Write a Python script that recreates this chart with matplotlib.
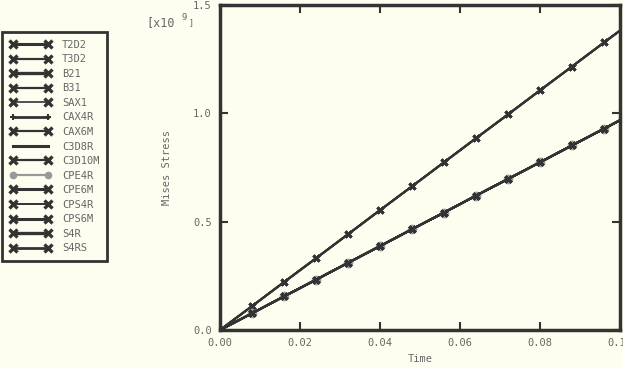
import matplotlib
matplotlib.use("Agg")
import matplotlib.pyplot as plt
from matplotlib.lines import Line2D

# Data
time = [0.0, 0.008, 0.016, 0.024, 0.032, 0.040, 0.048, 0.056, 0.064, 0.072, 0.080, 0.088, 0.096, 0.100]
upper = [0.0, 0.110, 0.221, 0.331, 0.442, 0.553, 0.663, 0.774, 0.885, 0.995, 1.106, 1.216, 1.327, 1.382]
lower = [0.0, 0.077, 0.155, 0.232, 0.310, 0.387, 0.465, 0.542, 0.620, 0.697, 0.774, 0.852, 0.929, 0.968]

names = ["T2D2", "T3D2", "B21", "B31", "SAX1", "CAX4R", "CAX6M", "C3D8R",
         "C3D10M", "CPE4R", "CPE6M", "CPS4R", "CPS6M", "S4R", "S4RS"]
which = ["upper", "upper", "upper", "upper", "lower", "lower", "lower", "lower",
         "lower", "lower", "lower", "lower", "lower", "lower", "lower"]

xticks = [0.00, 0.02, 0.04, 0.06, 0.08, 0.10]
xticklabels = ["0.00", "0.02", "0.04", "0.06", "0.08", "0.10"]
yticks = [0.0, 0.5, 1.0, 1.5]
yticklabels = ["0.0", "0.5", "1.0", "1.5"]

bg = "#fefef0"
dark = "#333333"
txt = "#666666"
font = "DejaVu Sans Mono"
fs = 7.5

styles = {
    "T2D2": dict(marker="x", lw=2.2, ms=5.5, mew=2.4, color=dark),
    "T3D2": dict(marker="x", lw=1.6, ms=5.5, mew=2.4, color=dark),
    "B21": dict(marker="x", lw=2.4, ms=5.5, mew=2.4, color=dark),
    "B31": dict(marker="x", lw=1.6, ms=5.5, mew=2.4, color=dark),
    "SAX1": dict(marker="x", lw=1.2, ms=5.5, mew=2.4, color=dark),
    "CAX4R": dict(marker="+", lw=2.0, ms=4, mew=1.5, color=dark),
    "CAX6M": dict(marker="x", lw=1.6, ms=5.5, mew=2.4, color=dark),
    "C3D8R": dict(marker=None, lw=2.2, color=dark),
    "C3D10M": dict(marker="x", lw=1.6, ms=5.5, mew=2.4, color=dark),
    "CPE4R": dict(marker="o", lw=1.6, ms=4.5, mew=1, color="#999999"),
    "CPE6M": dict(marker="x", lw=2.2, ms=5.5, mew=2.4, color=dark),
    "CPS4R": dict(marker="x", lw=1.4, ms=5.5, mew=2.4, color=dark),
    "CPS6M": dict(marker="x", lw=2.2, ms=5.5, mew=2.4, color=dark),
    "S4R": dict(marker="x", lw=2.4, ms=5.5, mew=2.4, color=dark),
    "S4RS": dict(marker="x", lw=2.0, ms=5.5, mew=2.4, color=dark),
}

fig = plt.figure(figsize=(6.23, 3.68), dpi=100, facecolor=bg)
ax = fig.add_axes([220/623, 38/368, 400/623, 325/368], facecolor=bg)

handles = []
for name, w in zip(names, which):
    ys = upper if w == "upper" else lower
    st = dict(styles[name])
    c = st.pop("color")
    m = st.pop("marker")
    lw = st.pop("lw")
    ms = st.pop("ms", 5)
    mew = st.pop("mew", 1)
    ax.plot(time, ys, color=c, lw=1.5, marker=m, ms=5, mew=2.0,
            markerfacecolor=c, markeredgecolor=c, markevery=list(range(0, 13)))
    handles.append(Line2D([], [], color=c, lw=lw, marker=m, ms=ms, mew=mew,
                          markerfacecolor=c, markeredgecolor=c))

ax.set_xlim(0, 0.10)
ax.set_ylim(0, 1.5)
ax.set_xticks(xticks)
ax.set_xticklabels(xticklabels, fontfamily=font, fontsize=fs, color=txt)
ax.set_yticks(yticks)
ax.set_yticklabels(yticklabels, fontfamily=font, fontsize=fs, color=txt)
ax.tick_params(direction="in", length=6, width=1.5, color=dark, top=True, right=True, pad=6)
for s in ax.spines.values():
    s.set_linewidth(2.5)
    s.set_color(dark)

ax.set_xlabel("Time", fontfamily=font, fontsize=fs, color=txt, labelpad=4)
ax.set_ylabel("Mises Stress", fontfamily=font, fontsize=fs, color=txt, labelpad=15)
fig.text(146/623, 1 - 23/368, "[x10", fontfamily=font, fontsize=8.5, color=txt, va="center")
fig.text(182/623, 1 - 18/368, "9", fontfamily=font, fontsize=6.5, color=txt, va="center")
fig.text(189/623, 1 - 23/368, "]", fontfamily=font, fontsize=6, color=txt, va="center")

leg = fig.legend(handles, names, loc="upper left", bbox_to_anchor=(2/623, 1 - 32/368),
                 bbox_transform=fig.transFigure, numpoints=2, handlelength=4.0,
                 labelspacing=0.435, handletextpad=1.0, borderpad=0.75, borderaxespad=0,
                 prop=dict(family=font, size=fs), fancybox=False, framealpha=1,
                 facecolor=bg, edgecolor=dark)
leg.get_frame().set_linewidth(2)
for t in leg.get_texts():
    t.set_color(txt)

fig.savefig("out.png", dpi=100, facecolor=bg)
